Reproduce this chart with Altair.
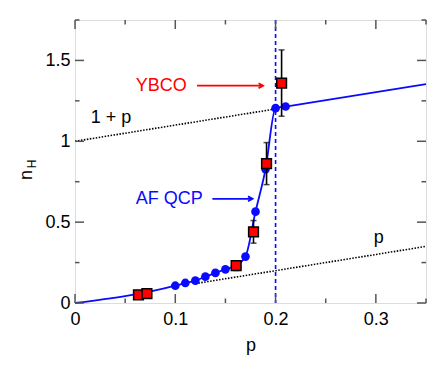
import altair as alt
import pandas as pd

# AF QCP model curve (blue circles)
circ_p = [0.10, 0.11, 0.12, 0.13, 0.14, 0.15, 0.16, 0.17, 0.18, 0.19, 0.20, 0.21]
circ_n = [0.107, 0.124, 0.138, 0.163, 0.186, 0.208, 0.231, 0.287, 0.565, 0.828, 1.205, 1.215]

# Blue line through the model points
line_p = [0.0] + circ_p + [0.35]
line_n = [0.0] + circ_n + [1.354]

# YBCO data (red squares with error bars)
sq_p = [0.0633, 0.0717, 0.1607, 0.178, 0.191, 0.206]
sq_n = [0.0495, 0.058, 0.231, 0.44, 0.862, 1.36]
sq_err = [0.0, 0.0, 0.03, 0.07, 0.13, 0.205]

# Reference lines
onep_p = [0.0, 0.20]
onep_n = [1.0, 1.20]
p_p = [0.12, 0.35]
p_n = [0.12, 0.35]

# Tick values
x_major = [0.0, 0.1, 0.2, 0.3]
x_minor = [0.05, 0.15, 0.25, 0.35]
y_major = [0.0, 0.5, 1.0, 1.5]
y_minor = [0.25, 0.75, 1.25, 1.75]

W, H = 351, 283
FONT = "Liberation Sans"
BLUE = "#0a0aff"
RED = "#ff0000"

xs = alt.Scale(domain=[0, 0.35], nice=False, zero=False)
ys = alt.Scale(domain=[0, 1.75], nice=False, zero=False)

xaxis = alt.Axis(values=x_major, labelExpr="datum.value == 0 ? '0' : '' + datum.value",
                 ticks=False, domain=False, grid=False, labelFontSize=18, labelPadding=7,
                 labelFlush=False, labelOverlap=False,
                 title="p", titleFontSize=18, titleFontWeight="normal", titlePadding=8,
                 labelColor="black", titleColor="black", labelFont=FONT, titleFont=FONT)
yaxis = alt.Axis(values=y_major, labelExpr="'' + datum.value",
                 ticks=False, domain=False, grid=False, labelFontSize=18, labelPadding=5,
                 labelFlush=False, labelOverlap=False,
                 title=None, labelColor="black", labelFont=FONT)

line_df = pd.DataFrame({"p": line_p, "n": line_n})
circ_df = pd.DataFrame({"p": circ_p, "n": circ_n})
sq_df = pd.DataFrame({"p": sq_p, "n": sq_n, "err": sq_err})
sq_df["lo"] = sq_df["n"] - sq_df["err"]
sq_df["hi"] = sq_df["n"] + sq_df["err"]
onep_df = pd.DataFrame({"p": onep_p, "n": onep_n})
p_df = pd.DataFrame({"p": p_p, "n": p_n})

base_x = alt.X("p:Q", scale=xs, axis=xaxis)
base_y = alt.Y("n:Q", scale=ys, axis=yaxis)

dot1 = alt.Chart(onep_df).mark_line(color="black", strokeDash=[1.5, 1.5], strokeWidth=1.6).encode(
    x=base_x, y=base_y)
dot2 = alt.Chart(p_df).mark_line(color="black", strokeDash=[1.5, 1.5], strokeWidth=1.6).encode(
    x=alt.X("p:Q", scale=xs), y=alt.Y("n:Q", scale=ys))

vline = alt.Chart(pd.DataFrame({"p": [0.2]})).mark_rule(
    color=BLUE, strokeDash=[4, 3], strokeWidth=1.6).encode(
    x=alt.X("p:Q", scale=xs), y=alt.value(0), y2=alt.value(H))

bline = alt.Chart(line_df).mark_line(color=BLUE, strokeWidth=1.8, interpolate="monotone").encode(
    x=alt.X("p:Q", scale=xs), y=alt.Y("n:Q", scale=ys))

circles = alt.Chart(circ_df).mark_circle(color=BLUE, size=75, opacity=1).encode(
    x=alt.X("p:Q", scale=xs), y=alt.Y("n:Q", scale=ys))

eb = alt.Chart(sq_df).transform_filter("datum.err > 0")
err_rule = eb.mark_rule(color="black", strokeWidth=1.6).encode(
    x=alt.X("p:Q", scale=xs), y=alt.Y("lo:Q", scale=ys), y2="hi:Q")
cap_lo = eb.mark_tick(color="black", orient="horizontal", size=6, thickness=1.5).encode(
    x=alt.X("p:Q", scale=xs), y=alt.Y("lo:Q", scale=ys))
cap_hi = eb.mark_tick(color="black", orient="horizontal", size=6, thickness=1.5).encode(
    x=alt.X("p:Q", scale=xs), y=alt.Y("hi:Q", scale=ys))

squares = alt.Chart(sq_df).mark_square(fill=RED, stroke="black", strokeWidth=1.5, size=95, opacity=1,
                                       filled=True).encode(
    x=alt.X("p:Q", scale=xs), y=alt.Y("n:Q", scale=ys))

# Annotations
labels = pd.DataFrame({
    "p": [0.086, 0.094, 0.036, 0.303],
    "n": [1.344, 0.644, 1.146, 0.40],
    "t": ["YBCO", "AF QCP", "1 + p", "p"],
    "c": [RED, BLUE, "black", "black"],
})
texts = alt.Chart(labels).mark_text(fontSize=18, font=FONT, align="center", baseline="middle").encode(
    x=alt.X("p:Q", scale=xs), y=alt.Y("n:Q", scale=ys), text="t:N",
    color=alt.Color("c:N", scale=None))

arrows = pd.DataFrame({
    "p0": [0.1217, 0.137], "p1": [0.1875, 0.177], "n": [1.344, 0.644], "c": [RED, BLUE]})
shafts = alt.Chart(arrows).mark_rule(strokeWidth=1.8).encode(
    x=alt.X("p0:Q", scale=xs), x2="p1:Q", y=alt.Y("n:Q", scale=ys),
    color=alt.Color("c:N", scale=None))
heads = alt.Chart(arrows).mark_point(shape="M-1,-0.55L0,0L-1,0.55", filled=False, size=80,
                                     strokeWidth=1.8, opacity=1).encode(
    x=alt.X("p1:Q", scale=xs), y=alt.Y("n:Q", scale=ys),
    color=alt.Color("c:N", scale=None))

# y title n_H
ntitle = alt.Chart(pd.DataFrame({"t": ["n"]})).mark_text(
    fontSize=18, font=FONT, angle=270, align="center", baseline="middle", color="black").encode(
    text="t:N", x=alt.value(-48), y=alt.value(155))
htitle = alt.Chart(pd.DataFrame({"t": ["H"]})).mark_text(
    fontSize=12, font=FONT, angle=270, align="center", baseline="middle", color="black").encode(
    text="t:N", x=alt.value(-43), y=alt.value(144))

# Inward ticks on all four sides
TC = "#555555"
xmaj = pd.DataFrame({"p": x_major})
xmin = pd.DataFrame({"p": x_minor})
ymaj = pd.DataFrame({"n": y_major})
ymin = pd.DataFrame({"n": y_minor})
tick_layers = []
for df, L in [(xmaj, 9), (xmin, 4.5)]:
    tick_layers.append(alt.Chart(df).mark_rule(color=TC, strokeWidth=1.5).encode(
        x=alt.X("p:Q", scale=xs), y=alt.value(H), y2=alt.value(H - L)))
    tick_layers.append(alt.Chart(df).mark_rule(color=TC, strokeWidth=1.5).encode(
        x=alt.X("p:Q", scale=xs), y=alt.value(0), y2=alt.value(L)))
for df, L in [(ymaj, 9), (ymin, 4.5)]:
    tick_layers.append(alt.Chart(df).mark_rule(color=TC, strokeWidth=1.5).encode(
        y=alt.Y("n:Q", scale=ys), x=alt.value(0), x2=alt.value(L)))
    tick_layers.append(alt.Chart(df).mark_rule(color=TC, strokeWidth=1.5).encode(
        y=alt.Y("n:Q", scale=ys), x=alt.value(W), x2=alt.value(W - L)))

chart = alt.layer(
    dot1, dot2, vline, bline, circles, err_rule, cap_lo, cap_hi, squares,
    texts, shafts, heads, ntitle, htitle, *tick_layers
).properties(
    width=W, height=H,
    autosize=alt.AutoSizeParams(type="none"),
    padding={"left": 67, "top": 12, "right": 13, "bottom": 60},
).configure_view(
    stroke="#555555", strokeWidth=1.5
).configure(background="white")

chart.save("out.html", embed_options={"renderer": "svg", "actions": False})
